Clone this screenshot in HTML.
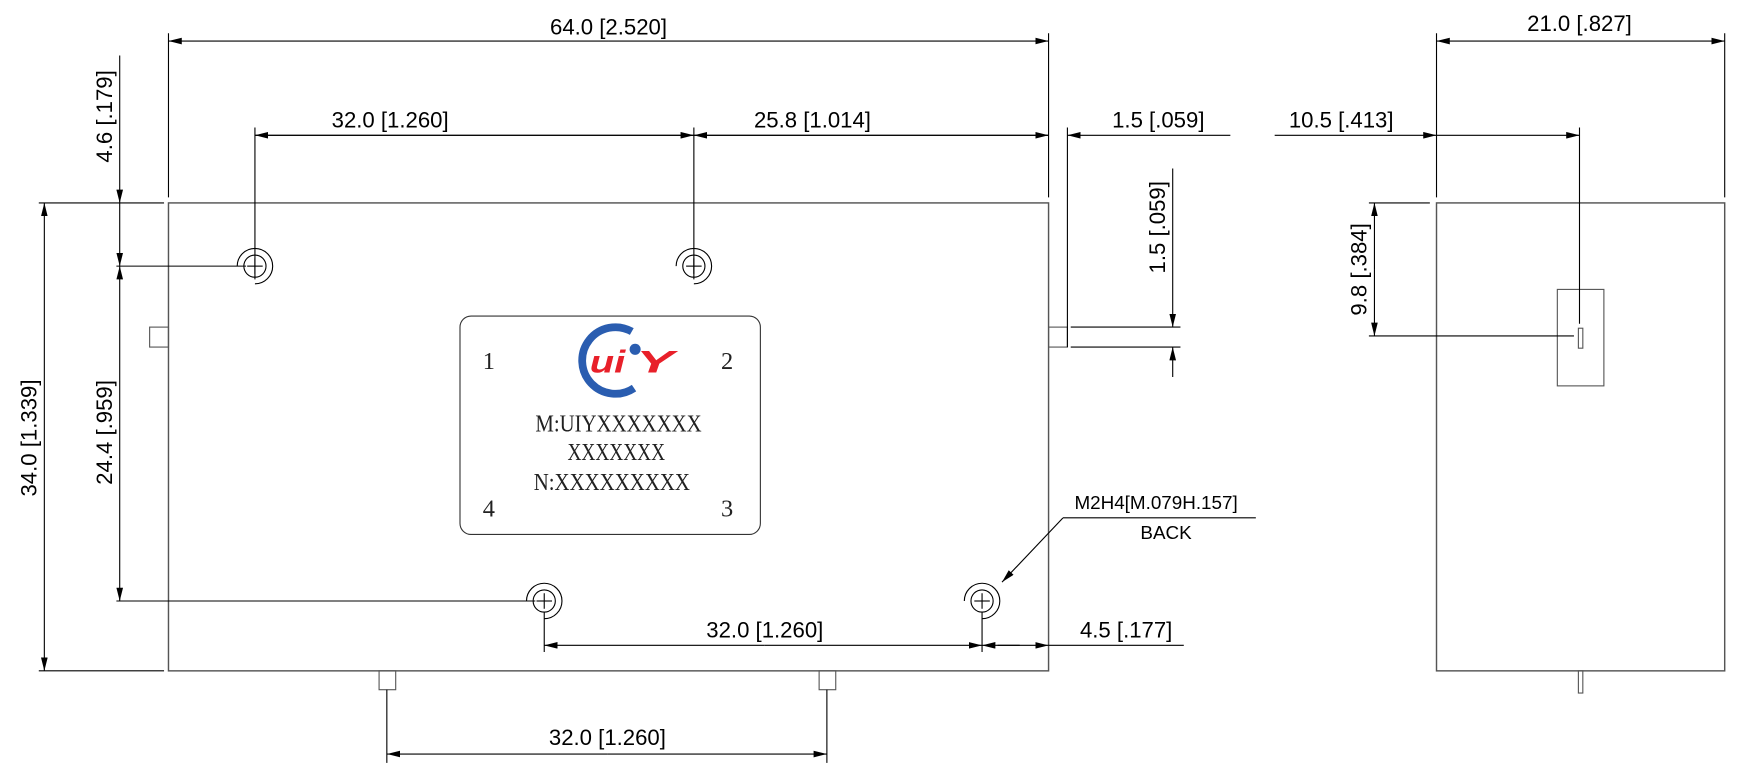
<!DOCTYPE html>
<html><head><meta charset="utf-8"><style>html,body{margin:0;padding:0;background:#fff}svg{display:block}</style></head>
<body>
<svg width="1738" height="764" viewBox="0 0 1568 689" preserveAspectRatio="none" xmlns="http://www.w3.org/2000/svg">
<defs>
<marker id="a" viewBox="0 0 12 6" refX="12" refY="3" markerWidth="12" markerHeight="6" orient="auto" markerUnits="userSpaceOnUse"><path d="M0,0 L12,3 L0,6z" fill="#000"/></marker>
</defs>
<g fill="none" stroke="#000" stroke-width="1">
<rect x="152" y="183" width="794" height="422" stroke="#555" stroke-width="1.3"/>
<rect x="135" y="295" width="17" height="18" stroke="#555"/>
<rect x="946" y="295" width="17" height="18" stroke="#555"/>
<rect x="342" y="605" width="15" height="17" stroke="#555"/>
<rect x="739" y="605" width="15" height="17" stroke="#555"/>
<line x1="152" y1="30" x2="152" y2="178"/>
<line x1="946" y1="30" x2="946" y2="178"/>
<line x1="549" y1="37" x2="152" y2="37" marker-end="url(#a)"/>
<line x1="549" y1="37" x2="946" y2="37" marker-end="url(#a)"/>
<line x1="230" y1="115" x2="230" y2="252"/>
<line x1="626" y1="115" x2="626" y2="252"/>
<line x1="230" y1="122" x2="626" y2="122" marker-end="url(#a)"/>
<line x1="626" y1="122" x2="230" y2="122" marker-end="url(#a)"/>
<line x1="626" y1="122" x2="946" y2="122" marker-end="url(#a)"/>
<line x1="946" y1="122" x2="626" y2="122" marker-end="url(#a)"/>
<line x1="963" y1="115" x2="963" y2="313"/>
<line x1="1110" y1="122" x2="963" y2="122" marker-end="url(#a)"/>
<line x1="966" y1="295" x2="1065" y2="295"/>
<line x1="966" y1="313" x2="1065" y2="313"/>
<line x1="1058" y1="152" x2="1058" y2="295" marker-end="url(#a)"/>
<line x1="1058" y1="340" x2="1058" y2="313" marker-end="url(#a)"/>
<line x1="35" y1="183" x2="148" y2="183"/>
<line x1="35" y1="605" x2="148" y2="605"/>
<line x1="105" y1="240" x2="222" y2="240"/>
<line x1="105" y1="542" x2="483" y2="542"/>
<line x1="108" y1="50" x2="108" y2="183" marker-end="url(#a)"/>
<line x1="108" y1="183" x2="108" y2="240" marker-end="url(#a)"/>
<line x1="108" y1="390" x2="108" y2="240" marker-end="url(#a)"/>
<line x1="108" y1="390" x2="108" y2="542" marker-end="url(#a)"/>
<line x1="40" y1="395" x2="40" y2="183" marker-end="url(#a)"/>
<line x1="40" y1="395" x2="40" y2="605" marker-end="url(#a)"/>
<line x1="491" y1="552" x2="491" y2="588"/>
<line x1="886" y1="552" x2="886" y2="588"/>
<line x1="690" y1="582" x2="491" y2="582" marker-end="url(#a)"/>
<line x1="690" y1="582" x2="886" y2="582" marker-end="url(#a)"/>
<line x1="920" y1="582" x2="886" y2="582" marker-end="url(#a)"/>
<line x1="900" y1="582" x2="946" y2="582" marker-end="url(#a)"/>
<line x1="946" y1="582" x2="1068" y2="582"/>
<line x1="349" y1="622" x2="349" y2="688"/>
<line x1="746" y1="622" x2="746" y2="688"/>
<line x1="548" y1="680" x2="349" y2="680" marker-end="url(#a)"/>
<line x1="548" y1="680" x2="746" y2="680" marker-end="url(#a)"/>
<line x1="959" y1="467" x2="1133" y2="467"/>
<line x1="959" y1="467" x2="904" y2="525" marker-end="url(#a)"/>
<rect x="415" y="285" width="271" height="197" rx="10" stroke="#333"/>
<rect x="1296" y="183" width="260" height="422" stroke="#555" stroke-width="1.3"/>
<rect x="1405" y="261" width="42" height="87" stroke="#555"/>
<rect x="1424" y="296" width="4" height="18" stroke="#555"/>
<rect x="1424" y="605" width="4" height="20" stroke="#555"/>
<line x1="1296" y1="30" x2="1296" y2="178"/>
<line x1="1556" y1="30" x2="1556" y2="178"/>
<line x1="1425" y1="37" x2="1296" y2="37" marker-end="url(#a)"/>
<line x1="1425" y1="37" x2="1556" y2="37" marker-end="url(#a)"/>
<line x1="1425" y1="115" x2="1425" y2="292"/>
<line x1="1150" y1="122" x2="1296" y2="122" marker-end="url(#a)"/>
<line x1="1296" y1="122" x2="1425" y2="122" marker-end="url(#a)"/>
<line x1="1235" y1="183" x2="1290" y2="183"/>
<line x1="1235" y1="303" x2="1420" y2="303"/>
<line x1="1240" y1="243" x2="1240" y2="183" marker-end="url(#a)"/>
<line x1="1240" y1="243" x2="1240" y2="303" marker-end="url(#a)"/>
</g>
<g fill="none" stroke="#000" stroke-width="1">
<g transform="translate(230,240)"><circle r="10"/><path d="M-16,0 A16,16 0 1 1 0,16"/><line x1="-7" y1="0" x2="7" y2="0"/><line x1="0" y1="-7" x2="0" y2="7"/></g>
<g transform="translate(626,240)"><circle r="10"/><path d="M-16,0 A16,16 0 1 1 0,16"/><line x1="-7" y1="0" x2="7" y2="0"/><line x1="0" y1="-7" x2="0" y2="7"/></g>
<g transform="translate(491,542)"><circle r="10"/><path d="M-16,0 A16,16 0 1 1 0,16"/><line x1="-7" y1="0" x2="7" y2="0"/><line x1="0" y1="-7" x2="0" y2="7"/></g>
<g transform="translate(886,542)"><circle r="10"/><path d="M-16,0 A16,16 0 1 1 0,16"/><line x1="-7" y1="0" x2="7" y2="0"/><line x1="0" y1="-7" x2="0" y2="7"/></g>
</g>
<g transform="translate(556,325)">
<path d="M14,-26 A30,30 0 1 0 16,25" fill="none" stroke="#2a5db0" stroke-width="7"/>
<circle cx="17" cy="-10" r="5" fill="#2a5db0"/>
<text x="-24" y="11" font-family="Liberation Sans, sans-serif" font-weight="bold" font-style="italic" font-size="28" fill="#e8202a" textLength="32" lengthAdjust="spacingAndGlyphs">ui</text>
<text x="18" y="11" font-family="Liberation Sans, sans-serif" font-weight="bold" font-style="italic" font-size="28" fill="#e8202a" textLength="34" lengthAdjust="spacingAndGlyphs">Y</text>
</g>
<g font-family="Liberation Sans, sans-serif" font-size="20" fill="#000" text-anchor="middle">
<text x="549" y="31">64.0 [2.520]</text>
<text x="352" y="115">32.0 [1.260]</text>
<text x="733" y="115">25.8 [1.014]</text>
<text x="1045" y="115">1.5 [.059]</text>
<text x="1425" y="28">21.0 [.827]</text>
<text x="1210" y="115">10.5 [.413]</text>
<text x="690" y="575">32.0 [1.260]</text>
<text x="1016" y="575">4.5 [.177]</text>
<text x="548" y="672">32.0 [1.260]</text>
<text transform="translate(1051,205) rotate(-90)">1.5 [.059]</text>
<text transform="translate(101,105) rotate(-90)">4.6 [.179]</text>
<text transform="translate(101,390) rotate(-90)">24.4 [.959]</text>
<text transform="translate(33,395) rotate(-90)">34.0 [1.339]</text>
<text transform="translate(1233,243) rotate(-90)">9.8 [.384]</text>
<text x="1043" y="459" font-size="17">M2H4[M.079H.157]</text>
<text x="1052" y="486" font-size="17">BACK</text>
</g>
<g font-family="Liberation Serif, serif" font-size="22" fill="#222" text-anchor="middle">
<text x="441" y="333">1</text>
<text x="656" y="333">2</text>
<text x="441" y="466">4</text>
<text x="656" y="466">3</text>
<text x="558" y="389" textLength="150" lengthAdjust="spacingAndGlyphs">M:UIYXXXXXXX</text>
<text x="556" y="415" textLength="88" lengthAdjust="spacingAndGlyphs">XXXXXXX</text>
<text x="552" y="442" textLength="141" lengthAdjust="spacingAndGlyphs">N:XXXXXXXXX</text>
</g>
</svg>
</body></html>
